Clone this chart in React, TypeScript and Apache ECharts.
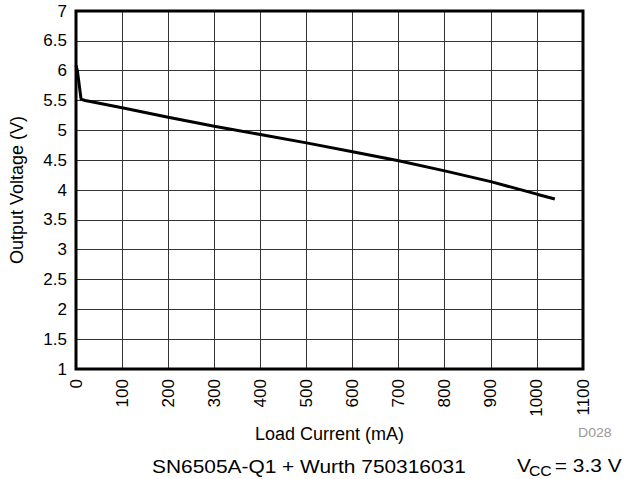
import React, { useEffect, useRef } from "react";
import * as echarts from "echarts";

const loadCurrent = [0, 3, 11, 20, 100, 200, 300, 400, 500, 600, 700, 800, 900, 1000, 1039];
const outputVoltage = [6.09, 6.0, 5.52, 5.5, 5.38, 5.22, 5.07, 4.93, 4.79, 4.64, 4.49, 4.32, 4.14, 3.93, 3.85];
const xTicks = { min: 0, max: 1100, interval: 100 };
const yTicks = { min: 1, max: 7, interval: 0.5 };

const FONT = "'Liberation Sans', Arial, Helvetica, sans-serif";

export default function App() {
  const ref = useRef<HTMLDivElement>(null);
  useEffect(() => {
    if (!ref.current) return;
    const chart = echarts.init(ref.current, undefined, { renderer: "svg" });
    chart.setOption({
      animation: false,
      backgroundColor: "#ffffff",
      textStyle: { fontFamily: FONT },
      grid: {
        left: 76,
        right: 45,
        top: 11,
        bottom: 110,
        show: true,
        borderColor: "#000",
        borderWidth: 3,
        containLabel: false,
        z: 3,
      },
      xAxis: {
        type: "value",
        min: xTicks.min,
        max: xTicks.max,
        interval: xTicks.interval,
        name: "Load Current (mA)",
        nameLocation: "middle",
        nameGap: 51,
        nameTextStyle: { fontSize: 18, color: "#000", fontFamily: FONT },
        axisLine: { show: false },
        axisTick: { show: false },
        axisLabel: {
          rotate: 90,
          fontSize: 17,
          color: "#000",
          margin: 10,
          fontFamily: FONT,
          formatter: (v: number) => String(v),
        },
        splitLine: { show: true, lineStyle: { color: "#333", width: 1 } },
      },
      yAxis: {
        type: "value",
        min: yTicks.min,
        max: yTicks.max,
        interval: yTicks.interval,
        name: "Output Voltage (V)",
        nameLocation: "middle",
        nameGap: 50,
        nameTextStyle: { fontSize: 18, color: "#000", fontFamily: FONT },
        axisLine: { show: false },
        axisTick: { show: false },
        axisLabel: { fontSize: 17, color: "#000", margin: 9, fontFamily: FONT },
        splitLine: { show: true, lineStyle: { color: "#333", width: 1 } },
      },
      series: [
        {
          type: "line",
          data: loadCurrent.map((x, i) => [x, outputVoltage[i]]),
          showSymbol: false,
          lineStyle: { color: "#000", width: 3 },
          z: 5,
        },
      ],
      graphic: [
        {
          type: "text",
          x: 578,
          y: 433,
          scaleX: 1.08,
          style: { text: "D028", fontSize: 13, fill: "#999", fontFamily: FONT, align: "left", verticalAlign: "middle" },
        },
        {
          type: "text",
          x: 152,
          y: 466,
          scaleX: 1.1,
          style: {
            text: "SN6505A-Q1 + Wurth 750316031",
            fontSize: 19,
            fill: "#000",
            fontFamily: FONT,
            align: "left",
            verticalAlign: "middle",
          },
        },
        {
          type: "text",
          x: 517,
          y: 465,
          scaleX: 1.1,
          style: { text: "V", fontSize: 19, fill: "#000", fontFamily: FONT, align: "left", verticalAlign: "middle" },
        },
        {
          type: "text",
          x: 529,
          y: 471,
          scaleX: 1.05,
          style: { text: "CC", fontSize: 15, fill: "#000", fontFamily: FONT, align: "left", verticalAlign: "middle" },
        },
        {
          type: "text",
          x: 549,
          y: 465,
          scaleX: 1.1,
          style: { text: " = 3.3 V", fontSize: 19, fill: "#000", fontFamily: FONT, align: "left", verticalAlign: "middle" },
        },
      ],
    });
    return () => chart.dispose();
  }, []);
  return (
    <div
      ref={ref}
      style={{ position: "fixed", left: 0, top: 0, width: 628, height: 479 }}
    />
  );
}
